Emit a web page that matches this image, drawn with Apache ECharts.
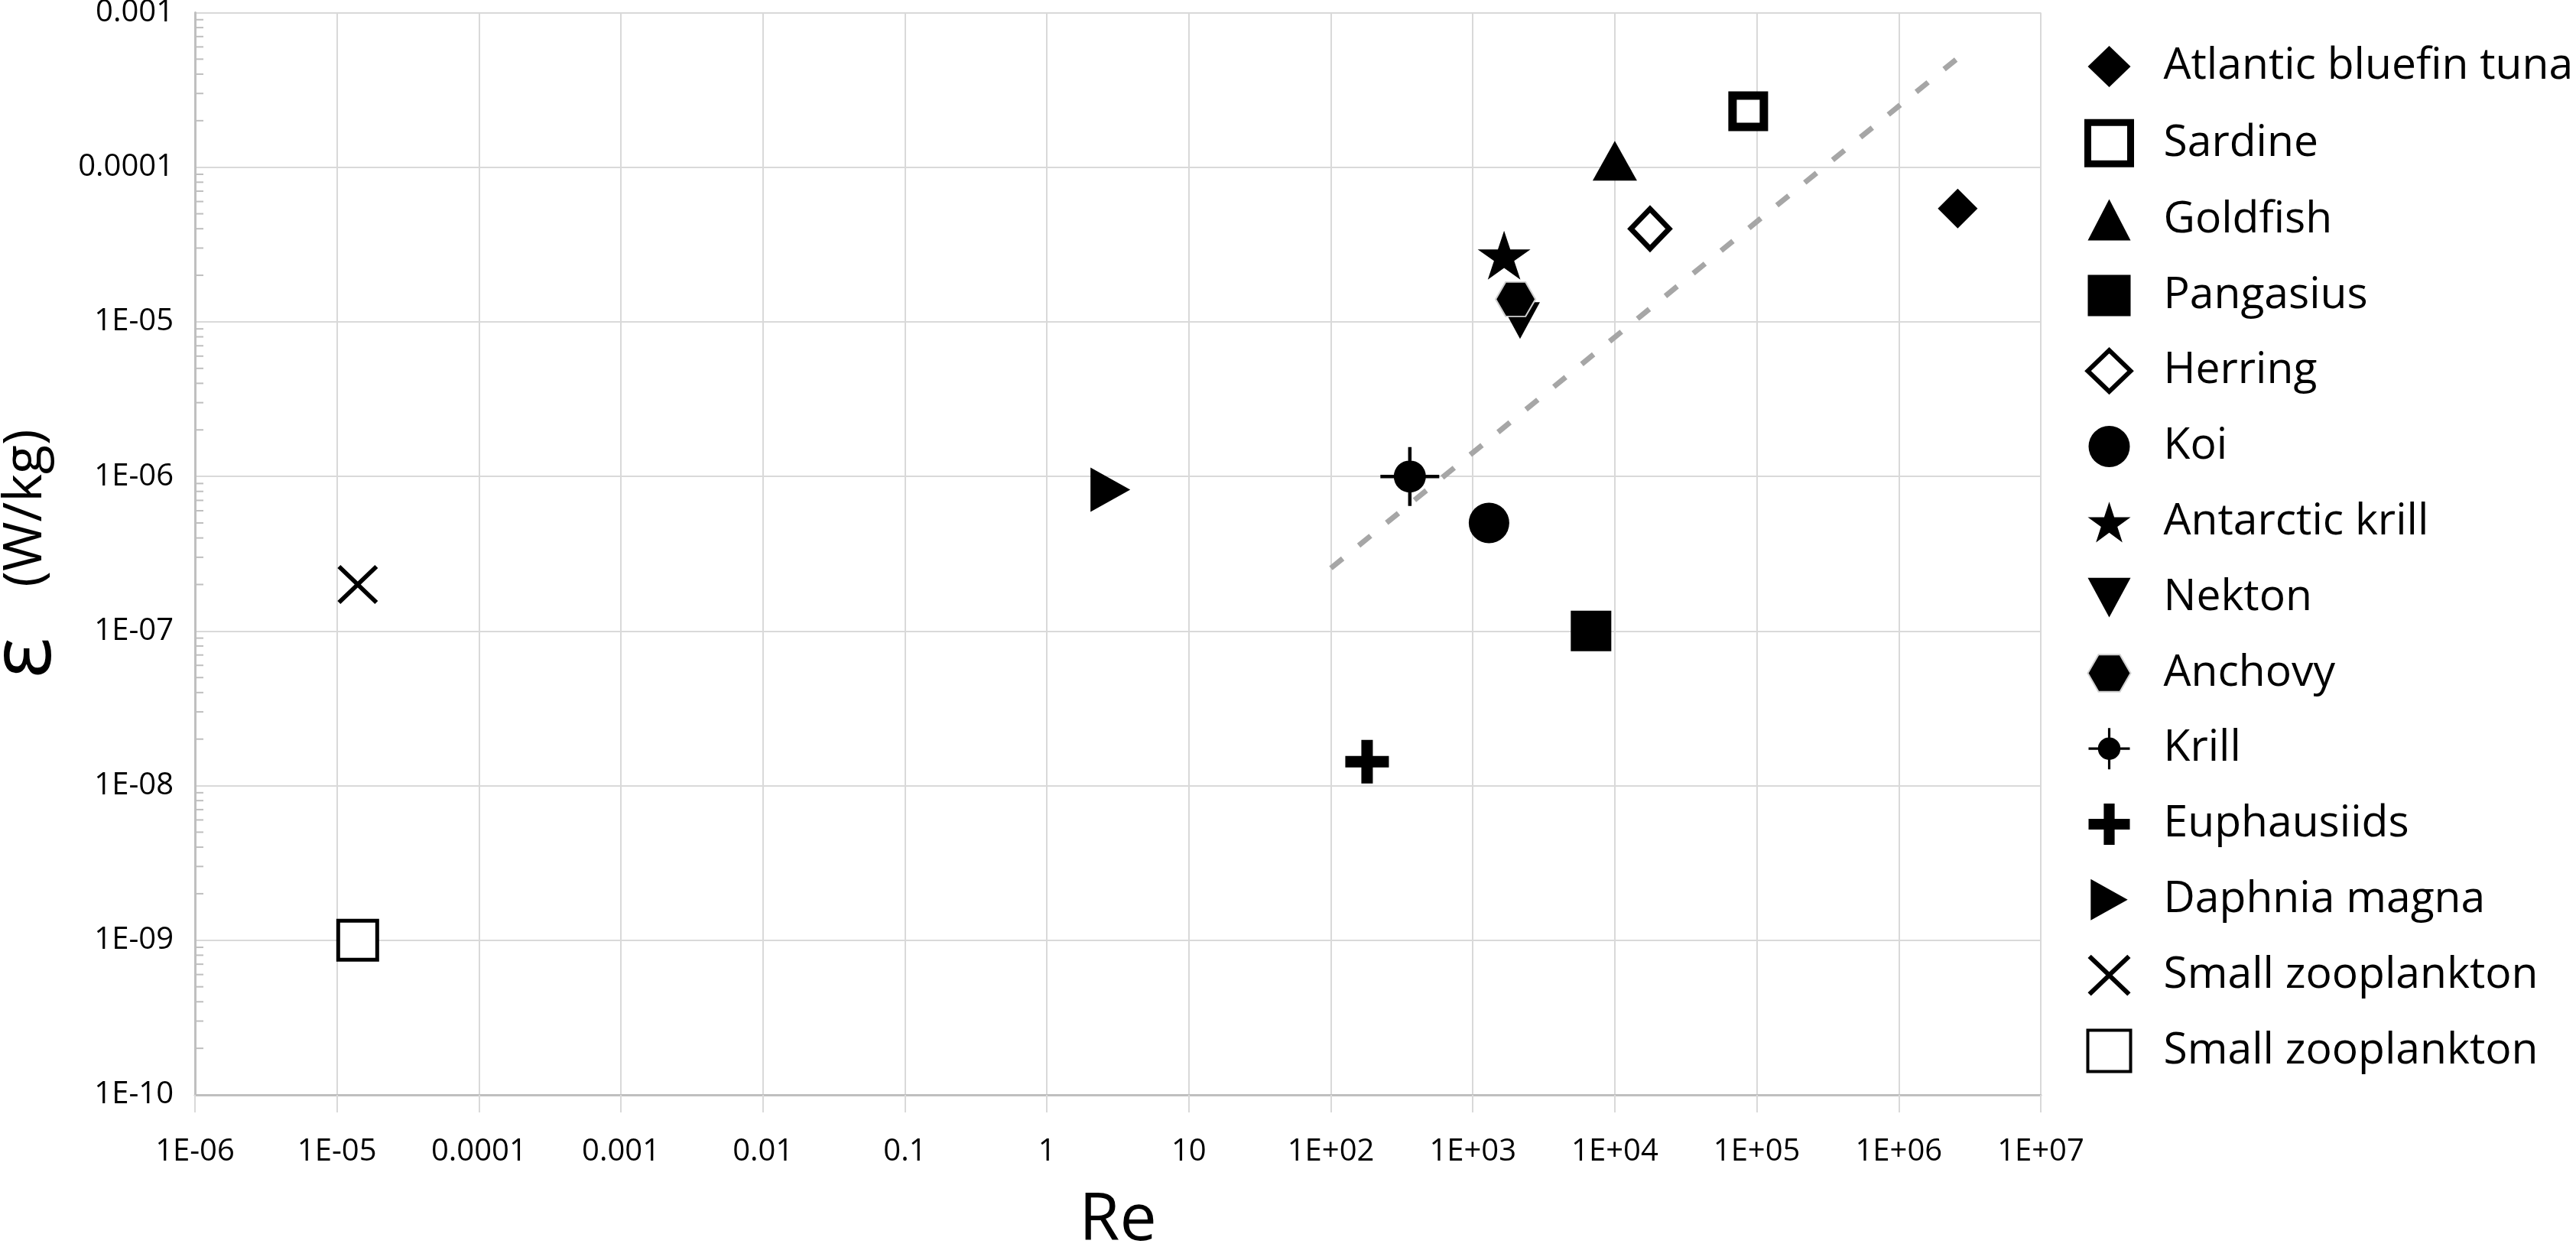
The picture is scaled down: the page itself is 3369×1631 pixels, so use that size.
<!DOCTYPE html>
<html>
<head>
<meta charset="utf-8">
<script src="https://cdn.jsdelivr.net/npm/echarts@6/dist/echarts.min.js"></script>
<style>
html, body { margin: 0; padding: 0; background: #fff; }
#chart { width: 3369px; height: 1631px; }
</style>
</head>
<body>
<div id="chart"></div>
<script>
// 数据：物种、雷诺数、耗散率
var speciesNames = ['Atlantic bluefin tuna', 'Sardine', 'Goldfish', 'Pangasius', 'Herring', 'Koi',
  'Antarctic krill', 'Nekton', 'Anchovy', 'Krill', 'Euphausiids', 'Daphnia magna',
  'Small zooplankton', 'Small zooplankton '];
var reValues = [2.6e6, 8.7e4, 1.0e4, 6.8e3, 1.77e4, 1.3e3, 1.66e3, 2.15e3, 2.0e3, 3.6e2, 1.8e2, 2.8, 1.4e-5, 1.4e-5];
var epsValues = [5.4e-5, 2.3e-4, 1.1e-4, 1.0e-7, 4.0e-5, 5.0e-7, 2.7e-5, 1.02e-5, 1.4e-5, 1.0e-6, 1.43e-8, 8.2e-7, 2.0e-7, 1.0e-9];

// 虚线趋势线两端
var trendRe = [1e2, 2.55e6];
var trendEps = [2.55e-7, 5.0e-4];

// 坐标轴刻度标签
var xTickLabels = ['1E-06', '1E-05', '0.0001', '0.001', '0.01', '0.1', '1', '10',
  '1E+02', '1E+03', '1E+04', '1E+05', '1E+06', '1E+07'];
var yTickLabels = ['1E-10', '1E-09', '1E-08', '1E-07', '1E-06', '1E-05', '0.0001', '0.001'];
var yDecades = [1e-10, 1e-9, 1e-8, 1e-7, 1e-6, 1e-5, 1e-4];
var minorSteps = [2, 3, 4, 5, 6, 7, 8, 9];

var FONT = 'Open Sans';

var STAR = 'path://M50,0 L61.2,34.55 L97.55,34.55 L68.2,55.9 L79.4,90.45 L50,69.1 L20.6,90.45 L31.8,55.9 L2.45,34.55 L38.8,34.55 Z';
var HEX = 'path://M0,22.5 L13,0 L39,0 L52,22.5 L39,45 L13,45 Z';
var KRILL = 'path://M17.5,38.5 A21,21 0 1,1 59.5,38.5 A21,21 0 1,1 17.5,38.5 Z M0,36.25 L77,36.25 L77,40.75 L0,40.75 Z M36.25,0 L40.75,0 L40.75,77 L36.25,77 Z';
var PLUS = 'path://M21,0 L36,0 L36,21 L57,21 L57,36 L36,36 L36,57 L21,57 L21,36 L0,36 L0,21 L21,21 Z';
var XMARK = 'path://M0,4 L4,0 L26.5,21.5 L49,0 L53,4 L30.5,25.5 L53,47 L49,51 L26.5,29.5 L4,51 L0,47 L22.5,25.5 Z';
var DOWN_TRI = 'path://M0,0 L52,0 L26,48 Z';
var RIGHT_TRI = 'path://M0,0 L52,29 L0,58 Z';

// 标记样式（与数据分开）
var markerStyles = [
  { symbol: 'diamond', size: [52, 52] },
  { symbol: 'rect', size: [41, 41], hollow: 11, legendBorder: 9 },
  { symbol: 'triangle', size: [58, 52] },
  { symbol: 'rect', size: [53, 53] },
  { symbol: 'diamond', size: [50, 52], hollow: 7, legendBorder: 6 },
  { symbol: 'circle', size: [53, 53] },
  { symbol: STAR, size: [69, 64] },
  { symbol: DOWN_TRI, size: [52, 48] },
  { symbol: HEX, size: [52, 45], edge: '#d0d0d0' },
  { symbol: KRILL, size: [77, 77] },
  { symbol: PLUS, size: [57, 57] },
  { symbol: RIGHT_TRI, size: [52, 58] },
  { symbol: XMARK, size: [53, 51] },
  { symbol: 'rect', size: [51, 51], hollow: 5, legendBorder: 4 }
];

var chart = echarts.init(document.getElementById('chart'));

var series = [];
series.push({
  type: 'line',
  data: trendRe.map(function (r, i) { return [r, trendEps[i]]; }),
  symbol: 'none',
  silent: true,
  z: 1,
  lineStyle: { color: '#a6a6a6', width: 7, type: [20, 27], cap: 'butt' }
});
// y轴次刻度
series.push({
  type: 'custom',
  silent: true,
  z: 2,
  data: yDecades.map(function (d) { return [1e-6, d]; }),
  renderItem: function (params, api) {
    var d = api.value(1);
    var children = [];
    minorSteps.forEach(function (m) {
      var p = api.coord([1e-6, d * m]);
      children.push({
        type: 'line',
        shape: { x1: p[0], y1: p[1], x2: p[0] + 11, y2: p[1] },
        style: { stroke: '#bfbfbf', lineWidth: 2 }
      });
    });
    return { type: 'group', children: children };
  }
});
speciesNames.forEach(function (name, i) {
  var st = markerStyles[i];
  var itemStyle;
  if (st.hollow) {
    itemStyle = { color: '#fff', borderColor: '#000', borderWidth: st.hollow, opacity: 1 };
  } else {
    itemStyle = { color: '#000', borderColor: st.edge || '#000', borderWidth: st.edge ? 2 : 0, opacity: 1 };
  }
  series.push({
    name: name,
    type: 'scatter',
    symbol: st.symbol,
    symbolSize: st.size,
    data: [[reValues[i], epsValues[i]]],
    itemStyle: itemStyle,
    z: 3 + i
  });
});

var option = {
  backgroundColor: '#fff',
  animation: false,
  textStyle: { fontFamily: FONT },
  grid: { left: 255, top: 16.5, width: 2414, height: 1415.5, outerBoundsMode: 'none' },
  legend: {
    orient: 'vertical',
    left: 2721,
    top: 52,
    itemWidth: 56,
    itemHeight: 54,
    itemGap: 38.8,
    itemTextGap: 10,
    textStyle: { fontSize: 57, fontFamily: FONT, color: '#000', lineHeight: 60, padding: [0, 0, 0, 38] },
    data: speciesNames.map(function (n, i) {
      var it = { name: n };
      if (markerStyles[i].hollow) {
        it.itemStyle = { borderWidth: markerStyles[i].legendBorder };
      }
      return it;
    })
  },
  xAxis: {
    type: 'log',
    logBase: 10,
    min: 1e-6,
    max: 1e7,
    interval: 1,
    name: 'Re',
    nameLocation: 'middle',
    nameGap: 122,
    nameTextStyle: { fontSize: 86, fontFamily: FONT, color: '#000' },
    axisLine: { show: true, lineStyle: { color: '#bfbfbf', width: 3 } },
    axisTick: { show: true, length: 23, lineStyle: { color: '#d9d9d9', width: 2 } },
    axisLabel: {
      fontSize: 40, fontFamily: FONT, color: '#000', margin: 55,
      formatter: function (v) { return xTickLabels[Math.round(Math.log10(v)) + 6]; }
    },
    splitLine: { show: true, lineStyle: { color: '#d9d9d9', width: 2 } },
    minorTick: { show: false },
    minorSplitLine: { show: false }
  },
  yAxis: {
    type: 'log',
    logBase: 10,
    min: 1e-10,
    max: 1e-3,
    interval: 1,
    name: '{e|ε}{u|(W/kg)}',
    nameLocation: 'middle',
    nameGap: 165,
    nameTextStyle: {
      rich: {
        e: { fontSize: 112, fontFamily: FONT, color: '#000', padding: [0, 66, 0, 0] },
        u: { fontSize: 70, fontFamily: FONT, color: '#000' }
      }
    },
    axisLine: { show: true, lineStyle: { color: '#bfbfbf', width: 3 } },
    axisTick: { show: false },
    axisLabel: {
      fontSize: 40, fontFamily: FONT, color: '#000', margin: 28,
      formatter: function (v) { return yTickLabels[Math.round(Math.log10(v)) + 10]; }
    },
    splitLine: { show: true, lineStyle: { color: '#d9d9d9', width: 2 } }
  },
  series: series
};

chart.setOption(option);
</script>
</body>
</html>
